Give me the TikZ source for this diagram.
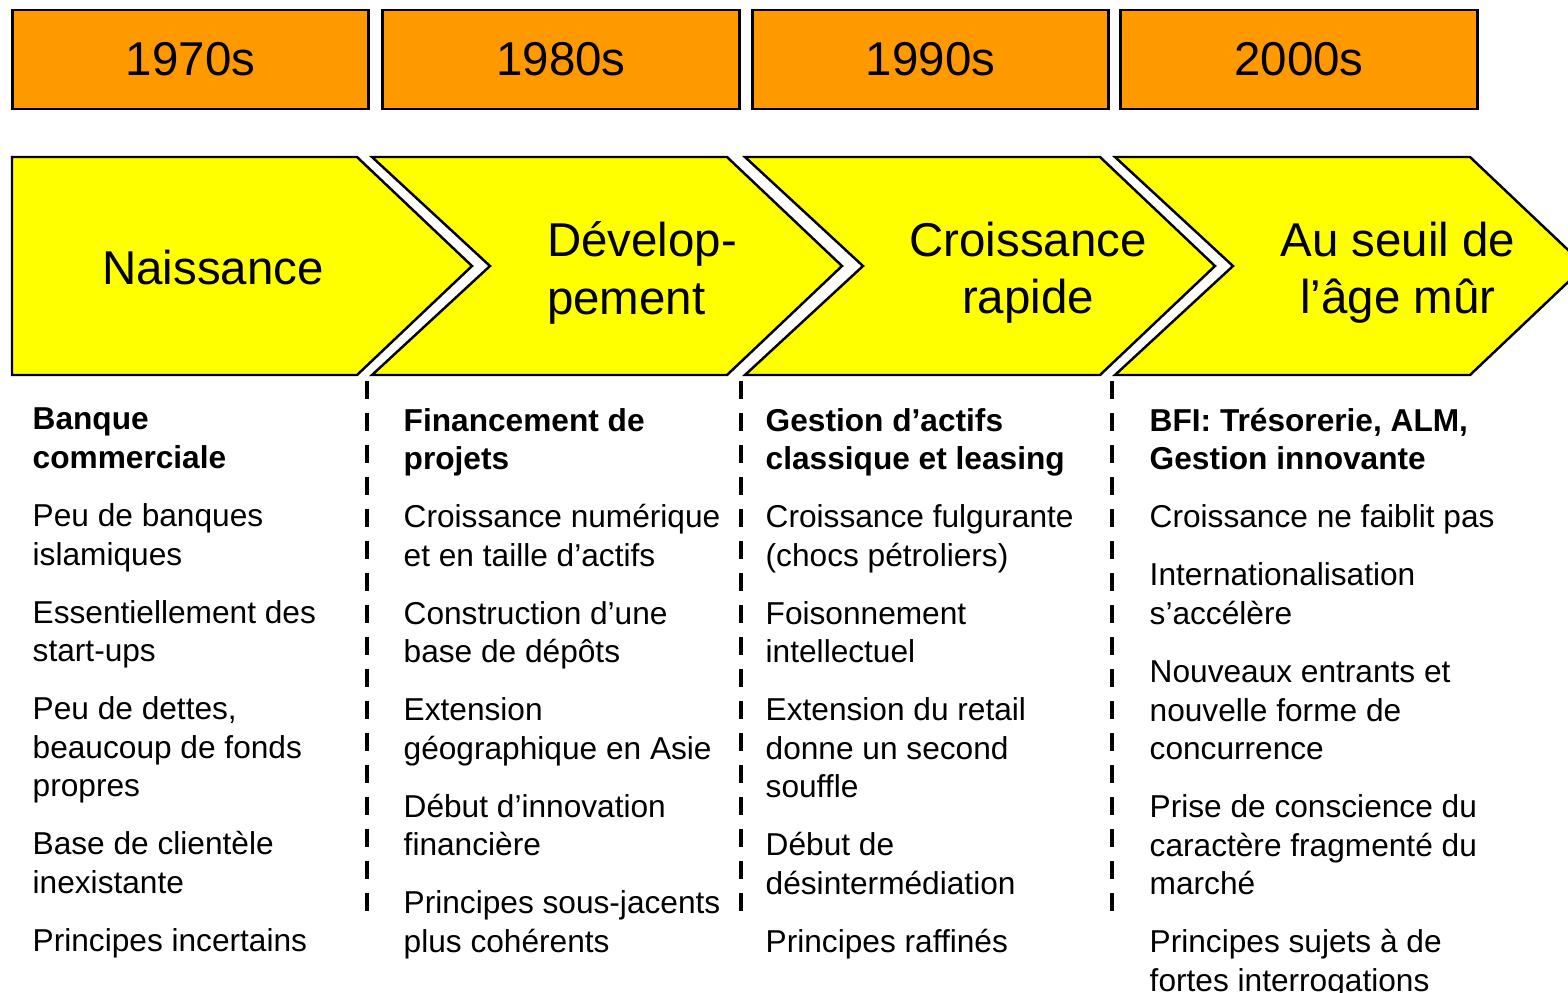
\documentclass[tikz,border=0pt]{standalone}
\usepackage{fontspec}
\setmainfont{Liberation Sans}
\definecolor{decade}{HTML}{FF9900}
\definecolor{phase}{HTML}{FFFF00}

\begin{document}
\begin{tikzpicture}[
        x=0.01cm, y=-0.01cm,
        ysty/.style={draw,line width=0.8pt,fill=decade,minimum width=3.56cm,minimum height=0.99cm,font=\fontsize{13.5}{16}\selectfont},
        chsty/.style={draw,line width=0.7pt,fill=phase,line join=miter},
        tsty/.style={align=center,font=\fontsize{13.5}{16.3}\selectfont},
        csty/.style={anchor=north west,align=left,inner sep=0pt,font=\fontsize{9}{10.95}\selectfont},
        sepsty/.style={line width=1.3pt,dash pattern=on 5.1pt off 4pt},
        ]

    \useasboundingbox (0,0) rectangle (1568,993);
    \clip (0,0) rectangle (1568,993);

    % decades
    \node (y70) at (190.5,59.5) [ysty] {1970s};
    \node (y80) at (561,59.5) [ysty] {1980s};
    \node (y90) at (930.5,59.5) [ysty] {1990s};
    \node (y00) at (1299,59.5) [ysty] {2000s};

    % phases
    \draw[chsty] (12,157) -- (357,157) -- (472,266) -- (357,375) -- (12,375) -- cycle;
    \draw[chsty] (372,157) -- (727,157) -- (842,266) -- (727,375) -- (372,375) -- (490,266) -- cycle;
    \draw[chsty] (745,157) -- (1100,157) -- (1215,266) -- (1100,375) -- (745,375) -- (863,266) -- cycle;
    \draw[chsty] (1115,157) -- (1470,157) -- (1585,266) -- (1470,375) -- (1115,375) -- (1233,266) -- cycle;

    \node (naiss) at (213,268) [tsty] {Naissance};
    \node (devel) at (642,273) [tsty,align=left] {Dévelop-\\pement};
    \node (crois) at (1028,273) [tsty] {Croissance\\rapide};
    \node (seuil) at (1398,273) [tsty] {Au seuil de\\l’âge mûr};

    % separators
    \draw[sepsty] (367,381) -- (367,912);
    \draw[sepsty] (741,381) -- (741,912);
    \draw[sepsty] (1112,381) -- (1112,912);

    % columns
    \node (c70) at (32,407.5) [csty] {\textbf{Banque}\\\textbf{commerciale}\\[5.55pt]
        Peu de banques\\islamiques\\[5.55pt]
        Essentiellement des\\start-ups\\[5.55pt]
        Peu de dettes,\\beaucoup de fonds\\propres\\[5.55pt]
        Base de clientèle\\inexistante\\[5.55pt]
        Principes incertains};
    \node (c80) at (403,407.5) [csty] {\textbf{Financement de}\\\textbf{projets}\\[5.55pt]
        Croissance numérique\\et en taille d’actifs\\[5.55pt]
        Construction d’une\\base de dépôts\\[5.55pt]
        Extension\\géographique en Asie\\[5.55pt]
        Début d’innovation\\financière\\[5.55pt]
        Principes sous-jacents\\plus cohérents};
    \node (c90) at (765,407.5) [csty] {\textbf{Gestion d’actifs}\\\textbf{classique et leasing}\\[5.55pt]
        Croissance fulgurante\\(chocs pétroliers)\\[5.55pt]
        Foisonnement\\intellectuel\\[5.55pt]
        Extension du retail\\donne un second\\souffle\\[5.55pt]
        Début de\\désintermédiation\\[5.55pt]
        Principes raffinés};
    \node (c00) at (1149,407.5) [csty] {\textbf{BFI: Trésorerie, ALM,}\\\textbf{Gestion innovante}\\[5.55pt]
        Croissance ne faiblit pas\\[5.55pt]
        Internationalisation\\s’accélère\\[5.55pt]
        Nouveaux entrants et\\nouvelle forme de\\concurrence\\[5.55pt]
        Prise de conscience du\\caractère fragmenté du\\marché\\[5.55pt]
        Principes sujets à de\\fortes interrogations};

\end{tikzpicture}
\end{document}
